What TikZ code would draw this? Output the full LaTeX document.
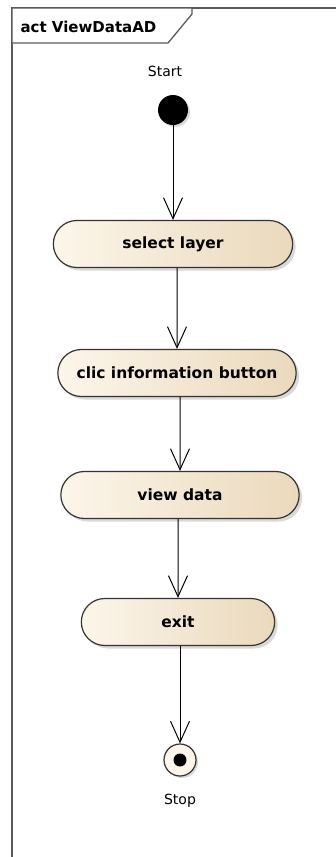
\documentclass[tikz,border=0pt]{standalone}
\usepackage{fontspec}
\setmainfont{DejaVu Sans}
\usetikzlibrary{arrows.meta,shapes.misc,shadows,positioning}
\definecolor{actleft}{HTML}{FCF6EA}
\definecolor{actright}{HTML}{EAD9BC}
\definecolor{framegray}{HTML}{5A5A5A}
\tikzset{
  action/.style={rounded rectangle, draw=black!80, line width=1.2pt,
    left color=actleft, right color=actright, minimum height=47pt,
    font=\fontsize{15.5}{18}\selectfont\bfseries,
    drop shadow={shadow xshift=3pt, shadow yshift=-3pt, opacity=0.3}},
  flow/.style={-{Straight Barb[length=21pt,width=19pt]}, line width=1pt},
  caption/.style={font=\fontsize{14}{16}\selectfont}
}
\begin{document}
\begin{tikzpicture}[x=1pt,y=-1pt]
  \useasboundingbox (0,0) rectangle (336,857);
  % frame and its name tab
  \draw[framegray, line width=1.8pt] (12,857) -- (12,8) -- (336,8);
  \draw[framegray, line width=1.3pt, fill=white]
    (12,8) -- (192,8) -- (192,14) -- (168,43) -- (12,43) -- cycle;
  \node[anchor=west, font=\fontsize{15}{18}\selectfont\bfseries] (title) at (17,27) {act ViewDataAD};

  % initial and final nodes
  \node[caption] (startlbl) at (165,71) {Start};
  \node[circle, fill=black, minimum size=30pt, inner sep=0pt,
    drop shadow={shadow xshift=2pt, shadow yshift=-2pt, opacity=0.3}] (start) at (173,110) {};
  \node[circle, draw=black!80, line width=1.2pt, fill=actleft, minimum size=32pt, inner sep=0pt,
    drop shadow={shadow xshift=2pt, shadow yshift=-2pt, opacity=0.3}] (stop) at (180,760) {};
  \node[circle, fill=black, minimum size=13pt, inner sep=0pt] at (stop) {};
  \node[caption] (stoplbl) at (180,801) {Stop};

  % actions
  \draw
    (173,244) node[action, minimum width=246pt] (select){select layer}
    (177,373) node[action, minimum width=245pt] (clic){clic information button}
    (180,495) node[action, minimum width=245pt] (view){view data}
    (178,622) node[action, minimum width=200pt] (exit){exit};

  \begin{scope}[flow]
    \draw (start) -- (select.north -| start);
    \draw (select.south -| clic) -- (clic);
    \draw (clic.south -| view) -- (view);
    \draw (view.south -| exit) -- (exit);
    \draw (exit.south -| stop) -- (stop);
  \end{scope}
\end{tikzpicture}
\end{document}
